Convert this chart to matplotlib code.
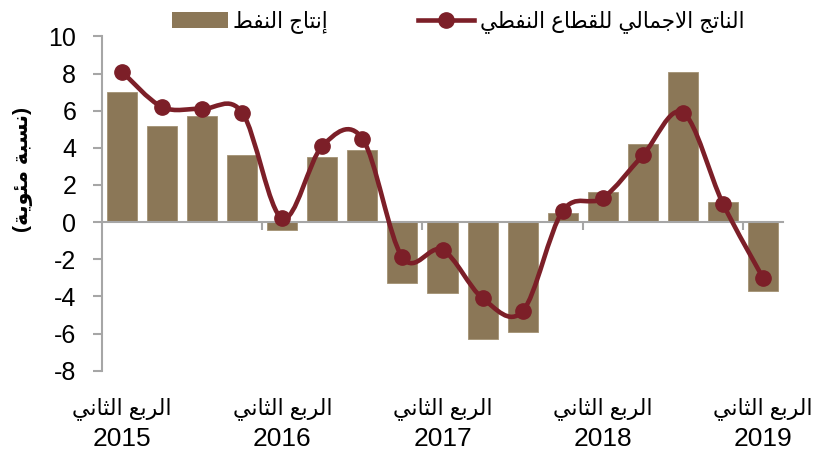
import matplotlib
matplotlib.use("Agg")
import matplotlib.pyplot as plt
from matplotlib.path import Path
from matplotlib.patches import PathPatch
from matplotlib.lines import Line2D
from matplotlib.patches import Patch
import numpy as np

# ---------------- data ----------------
quarters = list(range(17))  # Q2 2015 ... Q2 2019
oil_production = [7.0, 5.2, 5.7, 3.6, -0.4, 3.5, 3.9, -3.3, -3.8, -6.3, -5.9,
                  0.5, 1.6, 4.2, 8.1, 1.1, -3.7]
oil_gdp = [8.1, 6.2, 6.1, 5.9, 0.2, 4.1, 4.5, -1.9, -1.5, -4.1, -4.8,
           0.6, 1.3, 3.6, 5.9, 1.0, -3.0]
label_positions = [0, 4, 8, 12, 16]
quarter_label = "الربع الثاني"
year_labels = ["2015", "2016", "2017", "2018", "2019"]
bar_label = "إنتاج النفط"
line_label = "الناتج الاجمالي للقطاع النفطي"
y_label = "(نسبة مئوية)"
y_ticks = [-8, -6, -4, -2, 0, 2, 4, 6, 8, 10]

# ------------- Arabic shaping (presentation forms + visual order) -------------
FORMS = {
    '\u0627': ('\uFE8D', '\uFE8E', None, None),
    '\u0625': ('\uFE87', '\uFE88', None, None),
    '\u0623': ('\uFE83', '\uFE84', None, None),
    '\u0622': ('\uFE81', '\uFE82', None, None),
    '\u0628': ('\uFE8F', '\uFE90', '\uFE91', '\uFE92'),
    '\u0629': ('\uFE93', '\uFE94', None, None),
    '\u062A': ('\uFE95', '\uFE96', '\uFE97', '\uFE98'),
    '\u062B': ('\uFE99', '\uFE9A', '\uFE9B', '\uFE9C'),
    '\u062C': ('\uFE9D', '\uFE9E', '\uFE9F', '\uFEA0'),
    '\u062D': ('\uFEA1', '\uFEA2', '\uFEA3', '\uFEA4'),
    '\u062E': ('\uFEA5', '\uFEA6', '\uFEA7', '\uFEA8'),
    '\u062F': ('\uFEA9', '\uFEAA', None, None),
    '\u0630': ('\uFEAB', '\uFEAC', None, None),
    '\u0631': ('\uFEAD', '\uFEAE', None, None),
    '\u0632': ('\uFEAF', '\uFEB0', None, None),
    '\u0633': ('\uFEB1', '\uFEB2', '\uFEB3', '\uFEB4'),
    '\u0634': ('\uFEB5', '\uFEB6', '\uFEB7', '\uFEB8'),
    '\u0635': ('\uFEB9', '\uFEBA', '\uFEBB', '\uFEBC'),
    '\u0636': ('\uFEBD', '\uFEBE', '\uFEBF', '\uFEC0'),
    '\u0637': ('\uFEC1', '\uFEC2', '\uFEC3', '\uFEC4'),
    '\u0638': ('\uFEC5', '\uFEC6', '\uFEC7', '\uFEC8'),
    '\u0639': ('\uFEC9', '\uFECA', '\uFECB', '\uFECC'),
    '\u063A': ('\uFECD', '\uFECE', '\uFECF', '\uFED0'),
    '\u0641': ('\uFED1', '\uFED2', '\uFED3', '\uFED4'),
    '\u0642': ('\uFED5', '\uFED6', '\uFED7', '\uFED8'),
    '\u0643': ('\uFED9', '\uFEDA', '\uFEDB', '\uFEDC'),
    '\u0644': ('\uFEDD', '\uFEDE', '\uFEDF', '\uFEE0'),
    '\u0645': ('\uFEE1', '\uFEE2', '\uFEE3', '\uFEE4'),
    '\u0646': ('\uFEE5', '\uFEE6', '\uFEE7', '\uFEE8'),
    '\u0647': ('\uFEE9', '\uFEEA', '\uFEEB', '\uFEEC'),
    '\u0648': ('\uFEED', '\uFEEE', None, None),
    '\u0649': ('\uFEEF', '\uFEF0', None, None),
    '\u064A': ('\uFEF1', '\uFEF2', '\uFEF3', '\uFEF4'),
    '\u0626': ('\uFE89', '\uFE8A', '\uFE8B', '\uFE8C'),
    '\u0621': ('\uFE80', None, None, None),
}
LAM_ALEF = {'\u0627': ('\uFEFB', '\uFEFC'), '\u0623': ('\uFEF7', '\uFEF8'),
            '\u0625': ('\uFEF9', '\uFEFA'), '\u0622': ('\uFEF5', '\uFEF6')}


def shape_ar(s):
    tokens = []
    i = 0
    while i < len(s):
        c = s[i]
        if c == '\u0644' and i + 1 < len(s) and s[i + 1] in LAM_ALEF:
            tokens.append(('LA', s[i + 1]))
            i += 2
        else:
            tokens.append(('C', c))
            i += 1

    def jp(t):
        if t[0] == 'LA':
            return True
        f = FORMS.get(t[1])
        return f is not None and f[1] is not None

    def jn(t):
        if t[0] == 'LA':
            return False
        f = FORMS.get(t[1])
        return f is not None and f[2] is not None

    out = []
    for k, t in enumerate(tokens):
        prev = tokens[k - 1] if k > 0 else None
        nxt = tokens[k + 1] if k + 1 < len(tokens) else None
        cp = prev is not None and jn(prev) and jp(t)
        cn = nxt is not None and jn(t) and jp(nxt)
        if t[0] == 'LA':
            out.append(LAM_ALEF[t[1]][1 if cp else 0])
            continue
        f = FORMS.get(t[1])
        if f is None:
            out.append(t[1])
            continue
        if cp and cn:
            g = f[3]
        elif cp:
            g = f[1]
        elif cn:
            g = f[2]
        else:
            g = f[0]
        out.append(g)
    vis = ''.join(reversed(out))
    return vis.translate(str.maketrans('()', ')('))


# ---------------- style ----------------
FAM = ['Liberation Sans', 'DejaVu Sans']
plt.rcParams['font.family'] = FAM
BAR_COLOR = '#8B7757'
LINE_COLOR = '#7C1F28'
AXIS_COLOR = '#A6A6A6'

fig = plt.figure(figsize=(8.13, 4.54), dpi=100)
ax = fig.add_axes([102 / 813, 1 - 370.7 / 454, (783 - 102) / 813, (370.7 - 36.4) / 454])

# bars
ax.bar(quarters, oil_production, width=0.75, color=BAR_COLOR,
       edgecolor='#A39274', linewidth=0.6, zorder=2)

# smoothed line (Catmull-Rom style Bezier through the data points)
xs = np.asarray(quarters, dtype=float)
ys = np.asarray(oil_gdp, dtype=float)
pts = np.column_stack([xs, ys])
verts = [tuple(pts[0])]
codes = [Path.MOVETO]
n = len(pts)
for i in range(n - 1):
    p0 = pts[i - 1] if i > 0 else pts[i]
    p1 = pts[i]
    p2 = pts[i + 1]
    p3 = pts[i + 2] if i + 2 < n else pts[i + 1]
    c1 = p1 + (p2 - p0) / 6.0
    c2 = p2 - (p3 - p1) / 6.0
    verts += [tuple(c1), tuple(c2), tuple(p2)]
    codes += [Path.CURVE4, Path.CURVE4, Path.CURVE4]
ax.add_patch(PathPatch(Path(verts, codes), facecolor='none', edgecolor=LINE_COLOR,
                       linewidth=3.3, zorder=3, capstyle='round', joinstyle='round'))
ax.plot(xs, ys, linestyle='none', marker='o', markersize=11,
        color=LINE_COLOR, zorder=4)

# axes
ax.set_xlim(-0.5, 16.5)
ax.set_ylim(-8, 10)
for s in ['top', 'right']:
    ax.spines[s].set_visible(False)
ax.spines['left'].set_color(AXIS_COLOR)
ax.spines['left'].set_linewidth(1.5)
ax.spines['bottom'].set_position(('data', 0))
ax.spines['bottom'].set_color(AXIS_COLOR)
ax.spines['bottom'].set_linewidth(1.5)
ax.set_yticks(y_ticks)
ax.set_yticklabels([str(v) for v in y_ticks])
ax.tick_params(axis='y', direction='out', length=6.5, width=1.5, color=AXIS_COLOR,
               labelsize=18, pad=12, labelcolor='black')
ax.set_xticks([3.5, 7.5, 11.5, 15.5])
ax.set_xticklabels([])
ax.tick_params(axis='x', direction='out', length=6, width=1.5, color=AXIS_COLOR)

qlab = shape_ar(quarter_label)
xtr = ax.get_xaxis_transform()
for pos, yr in zip(label_positions, year_labels):
    ax.text(pos, -0.112, qlab, transform=xtr, ha='center', va='center',
            fontsize=15.8, family=FAM)
    ax.text(pos, -0.205, yr, transform=xtr, ha='center', va='center',
            fontsize=19, family=FAM)

fig.text(23 / 813, 1 - 170 / 454, shape_ar(y_label), rotation=90, ha='center',
         va='center', fontsize=15, fontweight='bold', family=FAM)

handles = [Patch(facecolor=BAR_COLOR, edgecolor='none'),
           Line2D([0], [0], color=LINE_COLOR, linewidth=3.3, marker='o', markersize=11)]
fig.legend(handles, [shape_ar(bar_label), shape_ar(line_label)], loc='center',
           bbox_to_anchor=(458 / 813, 1 - 22 / 454), ncol=2, frameon=False,
           fontsize=15.5, handlelength=2.6, handletextpad=0.25, columnspacing=4.2,
           numpoints=1)

fig.savefig('out.png', dpi=100)
